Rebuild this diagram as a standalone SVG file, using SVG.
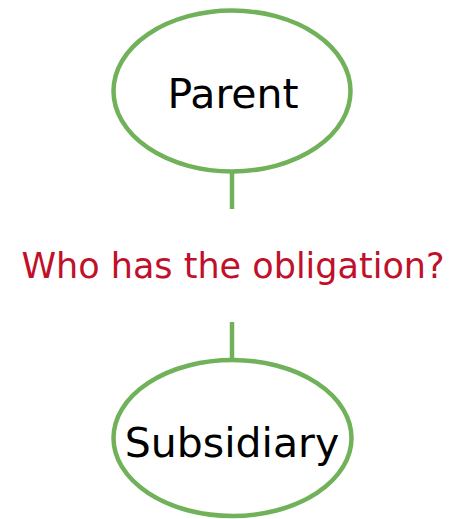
<svg xmlns="http://www.w3.org/2000/svg" width="450" height="519" viewBox="0 0 450 519">
<style>
.node{fill:#ffffff;stroke:#70B15A;stroke-width:4.5}
.lbl{font-family:"DejaVu Sans",Verdana,sans-serif;font-size:41px;fill:#000000;text-anchor:middle}
.conn{stroke:#70B15A;stroke-width:4.5;fill:none}
.q{font-family:"DejaVu Sans",Verdana,sans-serif;font-size:35px;fill:#C0102A;text-anchor:middle}
</style>
<rect width="450" height="519" fill="#ffffff"/>
<g id="connectors">
<line class="conn" x1="232" y1="172" x2="232" y2="209"/>
<line class="conn" x1="232" y1="322" x2="232" y2="360"/>
<text class="q" x="233" y="278">Who has the obligation?</text>
</g>
<g id="parent">
<ellipse class="node" cx="232" cy="91" rx="118.5" ry="80.5"/>
<text class="lbl" x="233" y="108">Parent</text>
</g>
<g id="subsidiary">
<ellipse class="node" cx="232.5" cy="438" rx="119" ry="78"/>
<text class="lbl" x="232" y="457">Subsidiary</text>
</g>
</svg>
